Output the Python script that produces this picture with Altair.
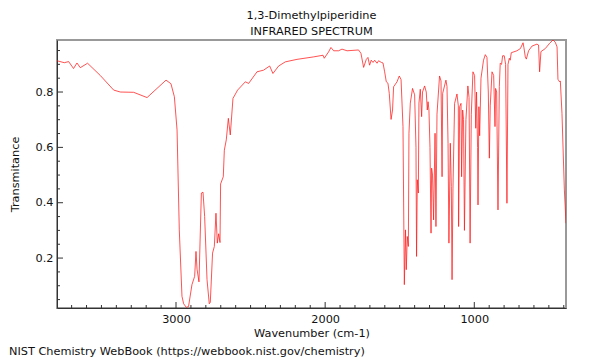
import altair as alt
import pandas as pd

wavenumber = [3798, 3749, 3720, 3687, 3664, 3642, 3593, 3508, 3418, 3373, 3284, 3194, 3067, 3034, 3011,
              2993, 2978, 2960, 2949, 2931, 2916, 2893, 2875, 2866, 2859, 2846, 2830, 2819, 2808, 2792,
              2777, 2770, 2755, 2743, 2732, 2723, 2714, 2705, 2701, 2683, 2676, 2663, 2649, 2636, 2618,
              2587, 2535, 2513, 2457, 2413, 2372, 2350, 2312, 2267, 2189, 2077, 2014, 2006, 1977, 1961,
              1943, 1910, 1887, 1853, 1776, 1760, 1742, 1724, 1713, 1702, 1691, 1679, 1668, 1652, 1642,
              1623, 1612, 1601, 1590, 1579, 1570, 1558, 1548, 1541, 1518, 1503, 1491, 1478, 1469, 1461,
              1456, 1449, 1442, 1438, 1429, 1414, 1400, 1391, 1387, 1382, 1375, 1371, 1362, 1353, 1347,
              1333, 1322, 1315, 1310, 1304, 1297, 1290, 1286, 1280, 1273, 1263, 1257, 1250, 1233, 1223,
              1216, 1212, 1190, 1183, 1176, 1170, 1161, 1154, 1149, 1143, 1132, 1116, 1107, 1105, 1098,
              1089, 1085, 1078, 1072, 1066, 1056, 1043, 1035, 1028, 1020, 1009, 998, 990, 985, 978,
              975, 969, 964, 955, 938, 926, 915, 906, 899, 893, 881, 870, 861, 857, 850,
              841, 832, 826, 817, 810, 799, 790, 781, 774, 765, 759, 752, 714, 691, 673,
              667, 658, 651, 636, 613, 580, 569, 562, 553, 524, 495, 472, 457, 445, 439,
              428, 423, 412, 396, 385]
transmittance = [0.913, 0.906, 0.910, 0.885, 0.905, 0.888, 0.904, 0.860, 0.807, 0.800, 0.799, 0.780, 0.843, 0.830, 0.783,
                 0.663, 0.302, 0.062, 0.035, 0.022, 0.025, 0.104, 0.134, 0.224, 0.160, 0.114, 0.435, 0.438, 0.350, 0.122,
                 0.035, 0.040, 0.218, 0.242, 0.362, 0.254, 0.288, 0.256, 0.468, 0.494, 0.590, 0.627, 0.705, 0.645, 0.777,
                 0.807, 0.837, 0.831, 0.873, 0.879, 0.894, 0.867, 0.894, 0.909, 0.918, 0.927, 0.933, 0.922, 0.945, 0.961,
                 0.949, 0.949, 0.955, 0.949, 0.952, 0.940, 0.889, 0.918, 0.925, 0.897, 0.915, 0.907, 0.915, 0.904, 0.913,
                 0.907, 0.905, 0.873, 0.837, 0.832, 0.795, 0.701, 0.735, 0.819, 0.837, 0.858, 0.845, 0.675, 0.104, 0.302,
                 0.158, 0.278, 0.242, 0.651, 0.760, 0.813, 0.790, 0.600, 0.206, 0.483, 0.435, 0.760, 0.810, 0.711, 0.800,
                 0.822, 0.800, 0.735, 0.765, 0.735, 0.600, 0.290, 0.525, 0.500, 0.338, 0.651, 0.314, 0.720, 0.858, 0.840,
                 0.494, 0.795, 0.843, 0.820, 0.615, 0.254, 0.615, 0.459, 0.122, 0.450, 0.759, 0.793, 0.750, 0.314, 0.747,
                 0.759, 0.494, 0.735, 0.700, 0.300, 0.700, 0.822, 0.780, 0.254, 0.720, 0.873, 0.860, 0.669, 0.800, 0.600,
                 0.392, 0.747, 0.642, 0.850, 0.915, 0.935, 0.925, 0.800, 0.561, 0.750, 0.873, 0.860, 0.675, 0.813, 0.800,
                 0.374, 0.820, 0.904, 0.900, 0.931, 0.931, 0.900, 0.398, 0.900, 0.922, 0.915, 0.942, 0.949, 0.957, 0.978,
                 0.960, 0.927, 0.919, 0.949, 0.966, 0.973, 0.970, 0.873, 0.946, 0.957, 0.976, 0.988, 0.980, 0.963, 0.846,
                 0.837, 0.840, 0.723, 0.446, 0.326]

x_major = [1000, 2000, 3000]
x_minor = [v for v in range(400, 3800, 100) if v not in x_major]
y_major = [0.2, 0.4, 0.6, 0.8]
y_minor = [0.05, 0.1, 0.15, 0.25, 0.3, 0.35, 0.45, 0.5, 0.55, 0.65, 0.7, 0.75, 0.85, 0.9, 0.95]

FONT = "DejaVu Sans"
FS = 11.3
W, H = 509, 268
XDOM = [385, 3798]
YDOM = [0.0196, 0.988]

spec = pd.DataFrame({"wn": wavenumber, "t": transmittance})

xs = alt.Scale(domain=XDOM, reverse=True, nice=False, zero=False)
ys = alt.Scale(domain=YDOM, nice=False, zero=False)

line = alt.Chart(spec).mark_line(color="#ff1a1a", strokeWidth=1, opacity=0.75, clip=True).encode(
    x=alt.X("wn:Q", scale=xs, title="Wavenumber (cm-1)",
            axis=alt.Axis(values=x_major, format="d", ticks=False, grid=False, labelPadding=5,
                          titlePadding=3, titleFontWeight=400)),
    y=alt.Y("t:Q", scale=ys, title="Transmitance",
            axis=alt.Axis(values=y_major, format=".1f", ticks=False, grid=False, labelPadding=4,
                          titlePadding=15, titleFontWeight=400)),
)

xmaj = alt.Chart(pd.DataFrame({"v": x_major})).mark_rule(color="#333", strokeWidth=1).encode(
    x=alt.X("v:Q", scale=xs), y=alt.value(H), y2=alt.value(H - 6))
xmin = alt.Chart(pd.DataFrame({"v": x_minor})).mark_rule(color="#333", strokeWidth=1).encode(
    x=alt.X("v:Q", scale=xs), y=alt.value(H), y2=alt.value(H - 3))
ymaj = alt.Chart(pd.DataFrame({"v": y_major})).mark_rule(color="#333", strokeWidth=1).encode(
    y=alt.Y("v:Q", scale=ys), x=alt.value(0), x2=alt.value(6))
ymin = alt.Chart(pd.DataFrame({"v": y_minor})).mark_rule(color="#333", strokeWidth=1).encode(
    y=alt.Y("v:Q", scale=ys), x=alt.value(0), x2=alt.value(3))

footer = alt.Chart(pd.DataFrame({"s": ["NIST Chemistry WebBook (https://webbook.nist.gov/chemistry)"]})).mark_text(
    align="left", baseline="middle", font=FONT, fontSize=FS, color="#111").encode(
    x=alt.value(-48), y=alt.value(312), text="s:N")

chart = alt.layer(line, xmaj, xmin, ymaj, ymin, footer).properties(
    width=W, height=H,
    background="white",
    title=alt.Title(["1,3-Dimethylpiperidine", "INFRARED SPECTRUM"], anchor="middle", font=FONT,
                    fontSize=FS, fontWeight=400, color="#111", lineHeight=16, offset=3),
    padding={"left": 49, "top": 32, "right": 26, "bottom": 50},
    autosize=alt.AutoSizeParams(type="none"),
).configure_view(stroke="#999", strokeWidth=2).configure_axis(
    labelFont=FONT, titleFont=FONT, labelFontSize=FS, titleFontSize=FS, labelColor="#111",
    titleColor="#111", titleFontWeight=400, domainColor="#333", domainWidth=1,
)

chart.save("out.html", embed_options={"renderer": "svg", "actions": False})
